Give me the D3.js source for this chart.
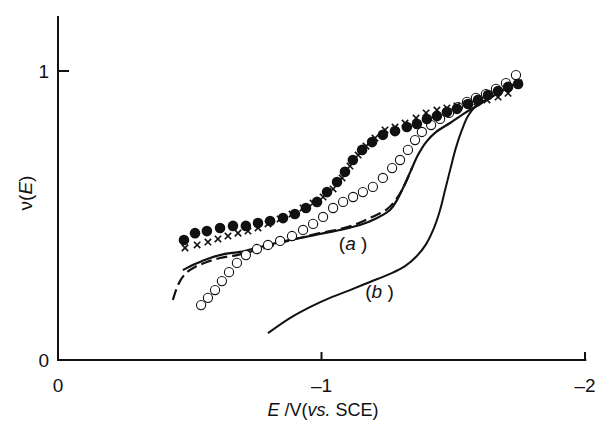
<!DOCTYPE html>
<html>
<head>
<meta charset="utf-8">
<script src="https://cdn.jsdelivr.net/npm/d3@7"></script>
<style>
	body { margin: 0; background: #fff; }
	text { font-family: "Liberation Sans", Arial, sans-serif; fill: #111; }
</style>
</head>
<body>
<div id="chart"></div>
<script>
// data: [E (V vs. SCE), nu(E)]
var filledPts = [[-0.478,0.415],[-0.520,0.439],[-0.565,0.446],[-0.615,0.457],[-0.664,0.464],[-0.713,0.464],
	[-0.759,0.474],[-0.805,0.481],[-0.854,0.491],[-0.899,0.505],[-0.941,0.526],[-0.983,0.547],[-1.021,0.581],
	[-1.059,0.616],[-1.089,0.651],[-1.119,0.692],[-1.154,0.727],[-1.192,0.754],[-1.233,0.779],[-1.279,0.792],
	[-1.324,0.806],[-1.362,0.817],[-1.400,0.834],[-1.438,0.844],[-1.476,0.858],[-1.514,0.869],[-1.556,0.886],
	[-1.594,0.900],[-1.632,0.917],[-1.670,0.931],[-1.708,0.945],[-1.746,0.955]];

var crossPts = [[-0.482,0.388],[-0.528,0.398],[-0.569,0.408],[-0.607,0.419],[-0.645,0.429],[-0.683,0.439],
	[-0.721,0.446],[-0.759,0.457],[-0.797,0.471],[-0.843,0.488],[-0.888,0.505],[-0.930,0.526],[-0.968,0.543],
	[-1.006,0.564],[-1.044,0.592],[-1.078,0.630],[-1.108,0.671],[-1.139,0.709],[-1.169,0.740],[-1.203,0.768],
	[-1.241,0.796],[-1.279,0.806],[-1.317,0.820],[-1.359,0.837],[-1.397,0.855],[-1.438,0.865],[-1.476,0.872],
	[-1.514,0.879],[-1.552,0.886],[-1.590,0.893],[-1.628,0.900],[-1.670,0.910],[-1.708,0.923]];

var openPts = [[-0.543,0.190],[-0.569,0.215],[-0.596,0.242],[-0.622,0.273],[-0.649,0.304],[-0.679,0.336],
	[-0.713,0.363],[-0.755,0.384],[-0.797,0.398],[-0.843,0.412],[-0.888,0.429],[-0.930,0.450],[-0.968,0.471],
	[-1.006,0.495],[-1.044,0.526],[-1.082,0.547],[-1.120,0.564],[-1.157,0.581],[-1.195,0.599],[-1.233,0.630],
	[-1.268,0.664],[-1.298,0.692],[-1.328,0.727],[-1.355,0.761],[-1.381,0.789],[-1.416,0.813],[-1.450,0.834],
	[-1.484,0.855],[-1.518,0.875],[-1.552,0.893],[-1.586,0.907],[-1.624,0.920],[-1.662,0.938],[-1.700,0.958],
	[-1.738,0.986]];

var curveA = [[-0.474,0.311],[-0.520,0.332],[-0.577,0.353],[-0.634,0.367],[-0.691,0.374],[-0.767,0.391],
	[-0.843,0.408],[-0.918,0.422],[-0.994,0.436],[-1.070,0.450],[-1.146,0.467],[-1.203,0.488],[-1.260,0.519],
	[-1.287,0.554],[-1.313,0.602],[-1.340,0.657],[-1.366,0.709],[-1.397,0.754],[-1.435,0.789],[-1.488,0.820],
	[-1.545,0.855],[-1.602,0.886],[-1.658,0.917],[-1.715,0.945],[-1.761,0.969]];

var curveDash = [[-0.436,0.208],[-0.448,0.242],[-0.463,0.273],[-0.486,0.301],[-0.520,0.322],[-0.565,0.339],
	[-0.615,0.353],[-0.679,0.363],[-0.740,0.377],[-0.797,0.391],[-0.854,0.408],[-0.918,0.422],[-0.994,0.439],
	[-1.070,0.453],[-1.135,0.471],[-1.192,0.495],[-1.249,0.522],[-1.287,0.561],[-1.317,0.609],[-1.343,0.664]];

var curveB = [[-0.797,0.093],[-0.880,0.145],[-0.956,0.183],[-1.032,0.215],[-1.108,0.242],[-1.184,0.270],
	[-1.260,0.298],[-1.317,0.325],[-1.362,0.360],[-1.397,0.401],[-1.427,0.457],[-1.450,0.519],[-1.469,0.588],
	[-1.488,0.657],[-1.510,0.734],[-1.533,0.796],[-1.556,0.844],[-1.586,0.879],[-1.624,0.900]];

var xTicks = [0, -1, -2];
var yTicks = [0, 1];

var curveLabels = [{ letter: "a", E: -1.12, v: 0.38 }, { letter: "b", E: -1.22, v: 0.215 }];

// Graph dimensions
var width = 597,
	height = 424;

var svg = d3.select("#chart")
	.append("svg")
	.attr("width", width)
	.attr("height", height);

var x = d3.scaleLinear()
	.domain([0, -2])
	.range([58, 585]);

var y = d3.scaleLinear()
	.domain([0, 1])
	.range([360, 71]);

// axes: plain lines with inward ticks
svg.append("line")
	.attr("x1", x(0)).attr("x2", x(0))
	.attr("y1", y(0) + 1).attr("y2", y(1.19))
	.style("stroke", "#111").style("stroke-width", 2);

svg.append("line")
	.attr("x1", x(0) - 1).attr("x2", x(-2.005))
	.attr("y1", y(0)).attr("y2", y(0))
	.style("stroke", "#111").style("stroke-width", 2);

svg.append("g")
	.selectAll("line")
	.data(xTicks.filter(function(d) { return d != 0; }))
	.enter()
	.append("line")
	.attr("x1", function(d) { return x(d); })
	.attr("x2", function(d) { return x(d); })
	.attr("y1", y(0))
	.attr("y2", y(0) - 8)
	.style("stroke", "#111").style("stroke-width", 2);

svg.append("g")
	.selectAll("line")
	.data(yTicks.filter(function(d) { return d != 0; }))
	.enter()
	.append("line")
	.attr("x1", x(0))
	.attr("x2", x(0) + 11)
	.attr("y1", function(d) { return y(d); })
	.attr("y2", function(d) { return y(d); })
	.style("stroke", "#111").style("stroke-width", 2);

// tick labels
svg.append("g")
	.selectAll("text")
	.data(xTicks)
	.enter()
	.append("text")
	.attr("x", function(d) { return x(d); })
	.attr("y", 392)
	.attr("text-anchor", "middle")
	.style("font-size", "19px")
	.text(function(d) { return d == 0 ? "0" : "\u2013" + Math.abs(d); });

svg.append("g")
	.selectAll("text")
	.data(yTicks)
	.enter()
	.append("text")
	.attr("x", 49)
	.attr("y", function(d) { return y(d); })
	.attr("dy", "0.35em")
	.attr("text-anchor", "end")
	.style("font-size", "19px")
	.text(function(d) { return d; });

// axis titles
var xt = svg.append("text")
	.attr("x", 323)
	.attr("y", 416)
	.attr("text-anchor", "middle")
	.style("font-size", "18px");
xt.append("tspan").style("font-style", "italic").text("E");
xt.append("tspan").text(" /V(");
xt.append("tspan").style("font-style", "italic").text("vs.");
xt.append("tspan").text(" SCE)");

var yt = svg.append("text")
	.attr("transform", "translate(32,193) rotate(-90)")
	.attr("text-anchor", "middle")
	.style("font-size", "19px");
yt.append("tspan").text("\u03bd(");
yt.append("tspan").style("font-style", "italic").text("E");
yt.append("tspan").text(")");

// curves
var line = d3.line()
	.x(function(d) { return x(d[0]); })
	.y(function(d) { return y(d[1]); })
	.curve(d3.curveCatmullRom);

svg.append("path")
	.datum(curveB)
	.attr("d", line)
	.style("fill", "none")
	.style("stroke", "#111")
	.style("stroke-width", 2);

svg.append("path")
	.datum(curveDash)
	.attr("d", line)
	.style("fill", "none")
	.style("stroke", "#111")
	.style("stroke-width", 2.2)
	.style("stroke-dasharray", "11,5");

svg.append("path")
	.datum(curveA)
	.attr("d", line)
	.style("fill", "none")
	.style("stroke", "#111")
	.style("stroke-width", 2.2);

// open circles
svg.append("g")
	.selectAll("circle")
	.data(openPts)
	.enter()
	.append("circle")
	.attr("cx", function(d) { return x(d[0]); })
	.attr("cy", function(d) { return y(d[1]); })
	.attr("r", 4.6)
	.style("fill", "#fff")
	.style("stroke", "#111")
	.style("stroke-width", 1.1);

// crosses
var cs = 3.2;
svg.append("g")
	.selectAll("path")
	.data(crossPts)
	.enter()
	.append("path")
	.attr("d", function(d) {
		var cx = x(d[0]), cy = y(d[1]);
		return "M" + (cx - cs) + "," + (cy - cs) + "L" + (cx + cs) + "," + (cy + cs) +
			"M" + (cx - cs) + "," + (cy + cs) + "L" + (cx + cs) + "," + (cy - cs);
	})
	.style("stroke", "#111")
	.style("stroke-width", 1.6);

// filled circles
svg.append("g")
	.selectAll("circle")
	.data(filledPts)
	.enter()
	.append("circle")
	.attr("cx", function(d) { return x(d[0]); })
	.attr("cy", function(d) { return y(d[1]); })
	.attr("r", 5.3)
	.style("fill", "#111");

// curve labels (a) and (b)
curveLabels.forEach(function(c) {
	var t = svg.append("text")
		.attr("x", x(c.E))
		.attr("y", y(c.v))
		.attr("text-anchor", "middle")
		.style("font-size", "19px");
	t.append("tspan").text("(");
	t.append("tspan").style("font-style", "italic").text(c.letter);
	t.append("tspan").text(" )");
});
</script>
</body>
</html>
